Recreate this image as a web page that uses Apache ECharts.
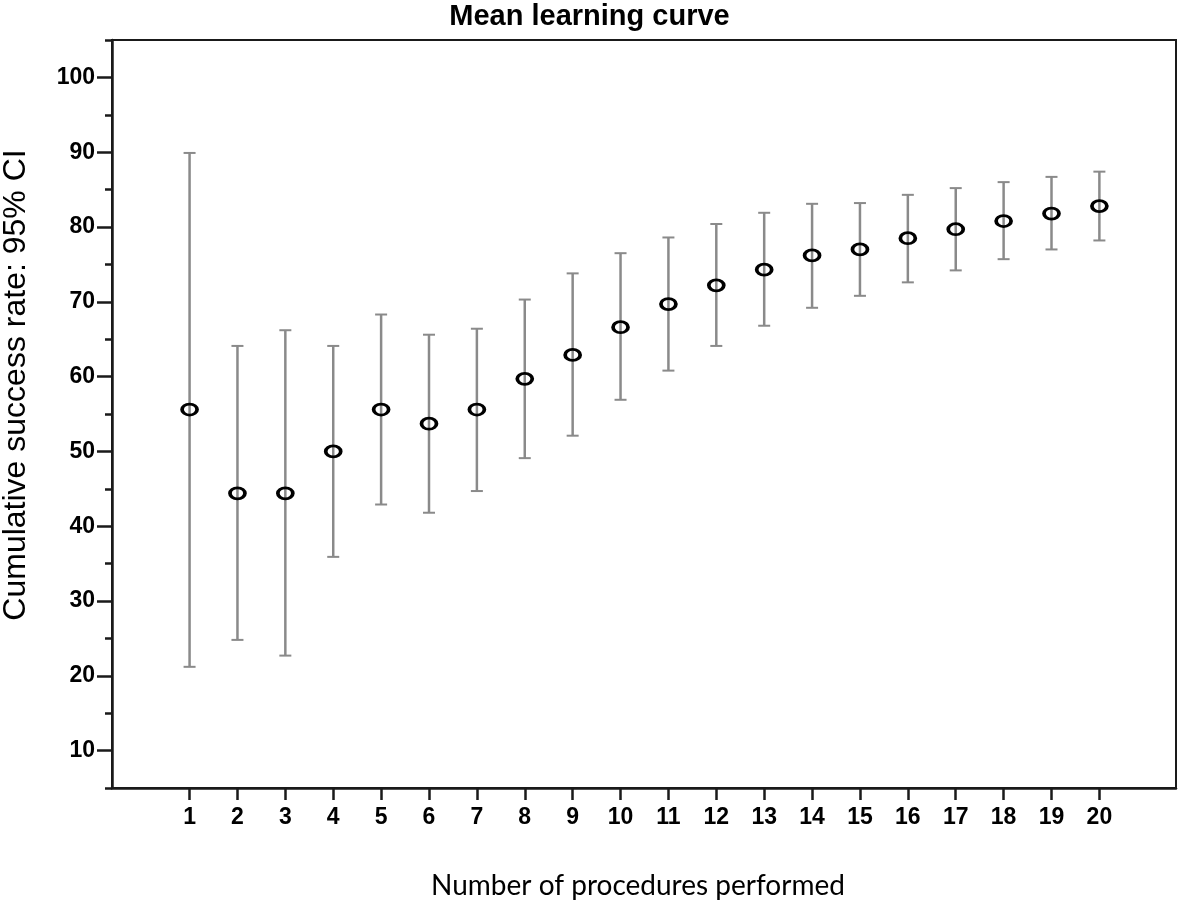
<!DOCTYPE html>
<html>
<head>
<meta charset="utf-8">
<script src="https://cdn.jsdelivr.net/npm/echarts@6/dist/echarts.min.js"></script>
<style>html,body{margin:0;padding:0;background:#fff;}#c{width:1179px;height:904px;}</style>
</head>
<body>
<div id="c"></div>
<script>
var procedures = [1,2,3,4,5,6,7,8,9,10,11,12,13,14,15,16,17,18,19,20];
var meanRate  = [55.6,44.4,44.4,50.0,55.6,53.7,55.6,59.7,62.9,66.6,69.7,72.2,74.3,76.2,77.0,78.5,79.7,80.8,81.8,82.8];
var lowerCI   = [21.2,24.8,22.7,35.9,42.9,41.8,44.7,49.1,52.1,56.9,60.8,64.1,66.8,69.2,70.8,72.6,74.2,75.7,77.0,78.2];
var upperCI   = [89.9,64.1,66.2,64.1,68.3,65.6,66.4,70.3,73.8,76.5,78.6,80.4,81.9,83.1,83.2,84.3,85.2,86.0,86.7,87.4];
var yMajorTicks = [10,20,30,40,50,60,70,80,90,100];
var yMinorTicks = [5,15,25,35,45,55,65,75,85,95,105];

var chart = echarts.init(document.getElementById('c'), null, {renderer:'canvas'});
var axisCol = '#1a1a1a';
var errData = procedures.map(function(p,i){ return [p, lowerCI[i], upperCI[i]]; });
var ptData = procedures.map(function(p,i){ return [p, meanRate[i]]; });

chart.setOption({
  animation:false,
  backgroundColor:'#fff',
  title:{
    text:'Mean learning curve',
    left:'center', top:-3,
    textStyle:{fontFamily:'Liberation Sans', fontWeight:'bold', fontSize:29, color:'#000'}
  },
  grid:{left:112, right:3, top:40, bottom:116, show:true, borderColor:axisCol, borderWidth:2,
        backgroundColor:'transparent', containLabel:false, outerBoundsMode:'none'},
  xAxis:{
    type:'value', min:-0.62, max:21.6,
    splitLine:{show:false},
    axisLine:{show:true, onZero:false, lineStyle:{color:axisCol, width:2.5}},
    axisTick:{show:true, customValues:procedures, length:12, lineStyle:{color:axisCol, width:2.5}},
    axisLabel:{customValues:procedures, margin:18, color:'#000', fontFamily:'Liberation Sans', fontWeight:'bold', fontSize:23},
    name:'Number of procedures performed', nameLocation:'middle', nameGap:84,
    nameTextStyle:{fontFamily:'Lato', fontSize:28, color:'#000', padding:[0,12,0,0]}
  },
  yAxis:[{
    type:'value', min:5, max:105, interval:5,
    splitLine:{show:false},
    axisLine:{show:true, onZero:false, lineStyle:{color:axisCol, width:2.5}},
    axisTick:{show:true, customValues:yMajorTicks, length:15, lineStyle:{color:axisCol, width:2.5}},
    axisLabel:{customValues:yMajorTicks, margin:17, color:'#000', fontFamily:'Liberation Sans', fontWeight:'bold', fontSize:23},
    name:'Cumulative success rate: 95% CI', nameLocation:'middle', nameGap:80, nameRotate:90,
    nameTextStyle:{fontFamily:'Liberation Sans', fontSize:32, color:'#000', padding:[0,0,0,58]}
  },{
    type:'value', min:5, max:105, interval:5, position:'left',
    splitLine:{show:false},
    axisLine:{show:false, onZero:false},
    axisTick:{show:true, customValues:yMinorTicks, length:7, lineStyle:{color:axisCol, width:2.5}},
    axisLabel:{show:false}
  }],
  series:[{
    type:'custom',
    name:'95% CI',
    data:errData,
    encode:{x:0, y:[1,2]},
    renderItem:function(params, api){
      var x = api.value(0);
      var lo = api.coord([x, api.value(1)]);
      var hi = api.coord([x, api.value(2)]);
      var hw = 6;
      return {type:'group', children:[
        {type:'line', shape:{x1:lo[0], y1:lo[1], x2:hi[0], y2:hi[1]}, style:{stroke:'#8a8a8a', lineWidth:2.5}},
        {type:'line', shape:{x1:lo[0]-hw, y1:lo[1], x2:lo[0]+hw, y2:lo[1]}, style:{stroke:'#8a8a8a', lineWidth:2}},
        {type:'line', shape:{x1:hi[0]-hw, y1:hi[1], x2:hi[0]+hw, y2:hi[1]}, style:{stroke:'#8a8a8a', lineWidth:2}}
      ]};
    },
    z:2
  },{
    type:'scatter',
    name:'Mean',
    data:ptData,
    symbol:'circle',
    symbolSize:[15,11],
    itemStyle:{color:'rgba(0,0,0,0)', borderColor:'#000', borderWidth:3.2, opacity:1},
    z:3
  }]
});
</script>
</body>
</html>
